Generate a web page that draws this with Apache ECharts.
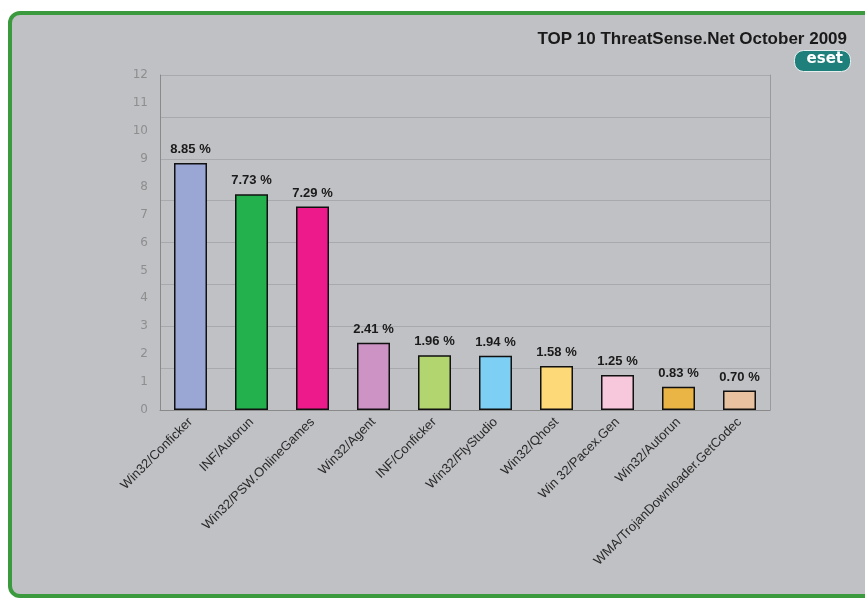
<!DOCTYPE html>
<html>
<head>
<meta charset="utf-8">
<script src="https://cdn.jsdelivr.net/npm/echarts@6/dist/echarts.min.js"></script>
<style>
html,body{margin:0;padding:0;background:#ffffff;width:865px;height:598px;overflow:hidden;}
#frame{position:absolute;left:8px;top:11px;width:880px;height:587px;background:#c0c1c5;border:4px solid #3b9a3d;border-radius:12px;box-sizing:border-box;}
#chart{position:absolute;left:0;top:0;width:865px;height:598px;}
</style>
</head>
<body>
<div id="frame"></div>
<div id="chart"></div>
<script>
const categories = ["Win32/Conficker","INF/Autorun","Win32/PSW.OnlineGames","Win32/Agent","INF/Conficker","Win32/FlyStudio","Win32/Qhost","Win 32/Pacex.Gen","Win32/Autorun","WMA/TrojanDownloader.GetCodec"];
const values = [8.85, 7.73, 7.29, 2.41, 1.96, 1.94, 1.58, 1.25, 0.83, 0.70];
const barColors = ["#9aa6d4","#22b14c","#ec1a8a","#cc93c4","#b2d56f","#7dcff3","#fdd978","#f7c8dc","#ebb545","#e8c2a0"];
const yTicks = [0,1,2,3,4,5,6,7,8,9,10,11,12];

const chart = echarts.init(document.getElementById('chart'), null, {renderer:'canvas'});
chart.setOption({
  backgroundColor: 'transparent',
  animation: false,
  title: {
    text: 'TOP 10 ThreatSense.Net October 2009',
    right: 13, top: 26,
    textStyle: {fontFamily:'Liberation Sans Narrow, Liberation Sans', fontSize:17, fontWeight:'bold', color:'#1a1a1a'}
  },
  graphic: [
    {type:'rect', right: 14, top: 50, shape:{width:56, height:21, r:9}, style:{fill:'#1f7f7a', stroke:'#e8f0ef', lineWidth:1}},
    {type:'text', right: 22, top: 52, style:{text:'eset', fill:'#ffffff', font:'bold 15px "DejaVu Sans"'}}
  ],
  grid: {left:160, right:95, top:75, bottom:188},
  xAxis: {
    type:'category', data: categories,
    axisLine:{lineStyle:{color:'#8a8a8a', width:1}},
    axisTick:{show:false},
    axisLabel:{rotate:45, interval:0, fontSize:13, color:'#2a2a2a', fontFamily:'Liberation Sans', margin:10}
  },
  yAxis: [
    {type:'value', min:0, max:12, interval:1, position:'left',
     axisLine:{show:true, lineStyle:{color:'#8a8a8a'}}, axisTick:{show:false},
     splitLine:{show:false},
     axisLabel:{color:'#8e8e8e', fontSize:12, margin:12, fontFamily:'DejaVu Sans'}},
    {type:'value', min:0, max:12, interval:1.5, position:'right',
     axisLine:{show:true, lineStyle:{color:'#9a9a9a'}}, axisTick:{show:false},
     axisLabel:{show:false},
     splitLine:{show:true, lineStyle:{color:'#a8a9ac', width:1}}}
  ],
  series: [{
    type:'bar', yAxisIndex:0, barWidth:33,
    data: values.map((v,i)=>({value:v, itemStyle:{color:barColors[i]}})),
    itemStyle:{borderColor:'#111111', borderWidth:1.5},
    label:{show:true, position:'top', distance:7, formatter:p=>p.value.toFixed(2)+' %', fontSize:13, fontWeight:'bold', color:'#1a1a1a', fontFamily:'Liberation Sans'}
  }]
});
</script>
</body>
</html>
